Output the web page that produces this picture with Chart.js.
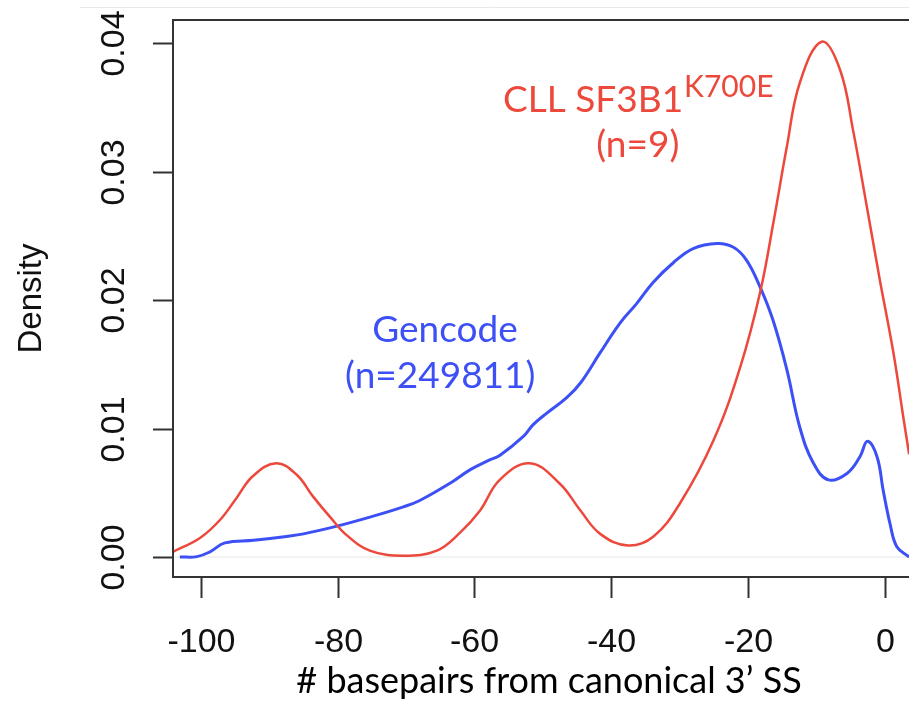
<!DOCTYPE html>
<html>
<head>
<meta charset="utf-8">
<script src="https://cdn.jsdelivr.net/npm/chart.js@4.4.1/dist/chart.umd.min.js"></script>
<style>
  html, body { margin: 0; padding: 0; background: #fff; }
</style>
</head>
<body>
<canvas id="density" width="909" height="705"></canvas>
<script>
// density curves (x = bp from 3' SS, y = density)
const redX = [-104.1, -100.1, -97.2, -94.8, -92.4, -89.0, -86.0, -83.6, -81.1, -78.7, -75.3, -70.4, -65.5, -62.1, -59.2,
  -56.3, -51.9, -47.5, -44.6, -41.6, -37.5, -33.8, -29.9, -25.0, -21.1, -18.2, -16.2, -14.3, -12.4, -9.2,
  -6.5, -4.6, -2.6, -0.7, 1.3, 2.8, 3.6];
const redY = [0.0004, 0.0015, 0.0029, 0.0046, 0.0063, 0.0073, 0.0064, 0.0047, 0.0031, 0.0017, 0.0005, 0.0001, 0.0005, 0.0019, 0.0036,
  0.0060, 0.0073, 0.0057, 0.0037, 0.0018, 0.0009, 0.0016, 0.0042, 0.0091, 0.0148, 0.0206, 0.0262, 0.0319, 0.0369, 0.0401,
  0.0379, 0.0332, 0.0273, 0.0216, 0.0159, 0.0107, 0.0080];

const blueX = [-103.1, -100.6, -98.7, -96.5, -92.3, -87.5, -85.0, -80.1, -75.3, -70.4, -68.0, -63.1, -60.6, -58.0, -56.3,
  -52.8, -51.4, -49.4, -46.5, -44.4, -41.6, -38.7, -36.3, -33.8, -30.9, -28.0, -24.5, -22.1, -20.2, -18.2, -16.3,
  -14.3, -12.4, -10.4, -8.2, -5.5, -3.6, -2.5, -1.1, -0.2, 0.8, 1.8, 3.6];
const blueY = [0.0000, 0.00003, 0.0004, 0.0011, 0.0013, 0.0016, 0.0018, 0.0024, 0.0031, 0.0039, 0.0044, 0.0059, 0.0068, 0.0075, 0.0079,
  0.0094, 0.0103, 0.0112, 0.0124, 0.0136, 0.0159, 0.0182, 0.0197, 0.0214, 0.0229, 0.0240, 0.0244, 0.0241, 0.0231, 0.0210, 0.0184,
  0.0146, 0.0101, 0.0073, 0.0060, 0.0065, 0.0078, 0.0090, 0.0078, 0.0052, 0.0026, 0.0008, 0.0000];

const xTicks = [-100, -80, -60, -40, -20, 0];
const yTicks = [0, 0.01, 0.02, 0.03, 0.04];
const yTickLabels = ["0.00", "0.01", "0.02", "0.03", "0.04"];

const xTitle = "# basepairs from canonical 3\u2019 SS";
const yTitle = "Density";
const redLabel = ["CLL SF3B1", "K700E", "(n=9)"];
const blueLabel = ["Gencode", "(n=249811)"];

const RED = "rgb(236, 72, 60)";
const BLUE = "rgb(60, 80, 246)";
const AXIS = "#333";
const TICK_FONT = "34px 'Liberation Sans', Arial, sans-serif";
const NOTE_FONT = "37px Lato, sans-serif";

function toPoints(xs, ys) {
  return xs.map(function (x, i) { return { x: x, y: ys[i] }; });
}

// R style box, ticks, labels and the notes, all placed with the chart's scales
const rAxes = {
  id: "rAxes",
  beforeDatasetsDraw(chart) {
    const c = chart.ctx, a = chart.chartArea, ys = chart.scales.y;
    c.save();
    // faint zero line of plot.density
    c.strokeStyle = "#e6e6e6";
    c.lineWidth = 1;
    c.beginPath();
    c.moveTo(a.left, ys.getPixelForValue(0));
    c.lineTo(a.right, ys.getPixelForValue(0));
    c.stroke();
    // thin rule at the very top of the image
    c.strokeStyle = "#e8e8e8";
    c.beginPath();
    c.moveTo(80, 7.5);
    c.lineTo(a.right, 7.5);
    c.stroke();
    c.restore();
  },
  afterDatasetsDraw(chart) {
    const c = chart.ctx, a = chart.chartArea;
    const xs = chart.scales.x, ys = chart.scales.y;
    c.save();
    c.strokeStyle = AXIS;
    c.lineWidth = 2;
    // box (right side is cut off in the source)
    c.beginPath();
    c.moveTo(a.right, a.top);
    c.lineTo(a.left, a.top);
    c.lineTo(a.left, a.bottom);
    c.lineTo(a.right, a.bottom);
    c.stroke();

    c.fillStyle = "#111";
    c.font = TICK_FONT;
    // x ticks
    c.textAlign = "center";
    c.textBaseline = "alphabetic";
    xTicks.forEach(function (v) {
      const px = Math.round(xs.getPixelForValue(v)) + 0.5;
      c.beginPath();
      c.moveTo(px, a.bottom);
      c.lineTo(px, a.bottom + 21);
      c.stroke();
      c.fillText(String(v), px, a.bottom + 75);
    });
    // y ticks, labels parallel to the axis
    yTicks.forEach(function (v, i) {
      const py = Math.round(ys.getPixelForValue(v)) + 0.5;
      c.beginPath();
      c.moveTo(a.left - 20, py);
      c.lineTo(a.left, py);
      c.stroke();
      c.save();
      c.translate(a.left - 49, py);
      c.rotate(-Math.PI / 2);
      c.fillText(yTickLabels[i], 0, 0);
      c.restore();
    });

    // axis titles
    c.save();
    c.translate(41, (a.top + a.bottom) / 2);
    c.rotate(-Math.PI / 2);
    c.font = "33px 'Liberation Sans', Arial, sans-serif";
    c.fillText(yTitle, 0, 0);
    c.restore();

    c.font = "36px Lato, sans-serif";
    c.fillStyle = "#000";
    c.fillText(xTitle, 549, 693);

    // red note with superscript
    c.font = NOTE_FONT;
    c.fillStyle = RED;
    const mainW = c.measureText(redLabel[0]).width;
    c.font = "30px Lato, sans-serif";
    const supW = c.measureText(redLabel[1]).width;
    const rx = xs.getPixelForValue(-36.1) - (mainW + supW) / 2;
    c.textAlign = "left";
    c.fillText(redLabel[1], rx + mainW + 1, ys.getPixelForValue(0.0358));
    c.font = NOTE_FONT;
    c.fillText(redLabel[0], rx, ys.getPixelForValue(0.03463));
    c.textAlign = "center";
    c.fillText(redLabel[2], xs.getPixelForValue(-36.1), ys.getPixelForValue(0.03113));

    // blue note
    c.fillStyle = BLUE;
    c.fillText(blueLabel[0], xs.getPixelForValue(-64.3), ys.getPixelForValue(0.01673));
    c.fillText(blueLabel[1], xs.getPixelForValue(-65.0), ys.getPixelForValue(0.01315));
    c.restore();
  }
};

const ctx = document.getElementById("density");

new Chart(ctx, {
  type: "line",
  data: {
    datasets: [
      {
        label: "CLL SF3B1 K700E",
        data: toPoints(redX, redY),
        borderColor: RED,
        borderWidth: 2.5,
        pointRadius: 0,
        tension: 0.4,
        fill: false,
      },
      {
        label: "Gencode",
        data: toPoints(blueX, blueY),
        borderColor: BLUE,
        borderWidth: 3,
        pointRadius: 0,
        tension: 0.4,
        fill: false,
      },
    ],
  },
  options: {
    responsive: false,
    animation: false,
    devicePixelRatio: 1,
    layout: {
      padding: { left: 173, top: 20, right: 0, bottom: 128 },
    },
    scales: {
      x: { type: "linear", min: -104.1, max: 3.58, display: false },
      y: { type: "linear", min: -0.001556, max: 0.04179, display: false },
    },
    plugins: {
      legend: { display: false },
      tooltip: { enabled: false },
    },
  },
  plugins: [rAxes],
});
</script>
</body>
</html>
